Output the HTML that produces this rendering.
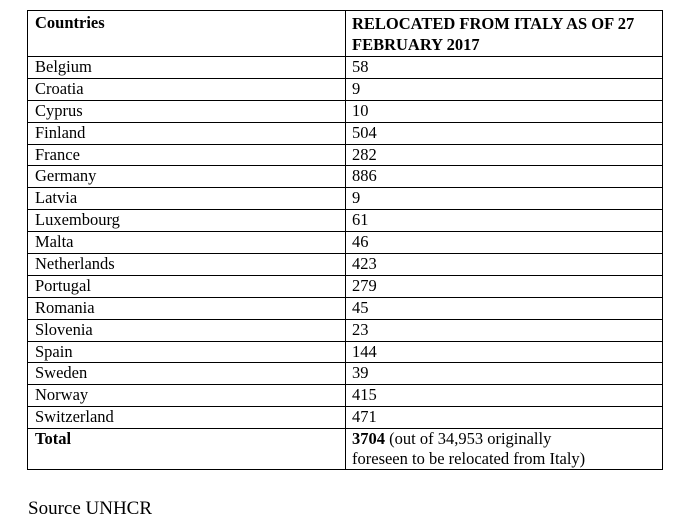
<!DOCTYPE html>
<html><head><meta charset="utf-8"><style>
body{margin:0;width:685px;height:525px;background:#fff;position:relative;overflow:hidden;font-family:"Liberation Serif",serif;color:#000}
.t{position:absolute;left:27px;top:10px;width:636px;border:1px solid #000;box-sizing:border-box}
.r{display:flex;border-top:1px solid #000;box-sizing:border-box;height:21.9px}
.r:first-child{border-top:none}
.c1{width:318px;border-right:1px solid #000;padding-left:7px;box-sizing:border-box;font-size:16.5px;line-height:20px}
.c2{flex:1;padding-left:6px;font-size:16.5px;line-height:20px}
.b{font-weight:bold}
.src{position:absolute;left:28px;top:498px;font-size:19px}
</style></head><body>
<div class="t" id="tbl">
 <div class="r" style="height:45px">
  <div class="c1 b" style="padding-top:2px">Countries</div>
  <div class="c2 b" style="padding-top:2px;line-height:21px">RELOCATED FROM ITALY AS OF 27<br>FEBRUARY 2017</div>
 </div>
</div>
<div class="src">Source UNHCR</div>
<script>
const countries=["Belgium","Croatia","Cyprus","Finland","France","Germany","Latvia","Luxembourg","Malta","Netherlands","Portugal","Romania","Slovenia","Spain","Sweden","Norway","Switzerland"];
const relocated=[58,9,10,504,282,886,9,61,46,423,279,45,23,144,39,415,471];
const tbl=document.getElementById('tbl');
countries.forEach((c,i)=>{
  const r=document.createElement('div');r.className='r';
  
  
  const a=document.createElement('div');a.className='c1';a.textContent=c;
  
  
  const b=document.createElement('div');b.className='c2';b.textContent=relocated[i];
  
  
  r.appendChild(a);r.appendChild(b);tbl.appendChild(r);
});
const tr=document.createElement('div');tr.className='r';tr.style.height='41px';


tr.innerHTML='<div class="c1 b">Total</div><div class="c2" style="line-height:20px"><b>3704</b> (out of 34,953 originally<br>foreseen to be relocated from Italy)</div>';
tbl.appendChild(tr);
</script>
</body></html>
